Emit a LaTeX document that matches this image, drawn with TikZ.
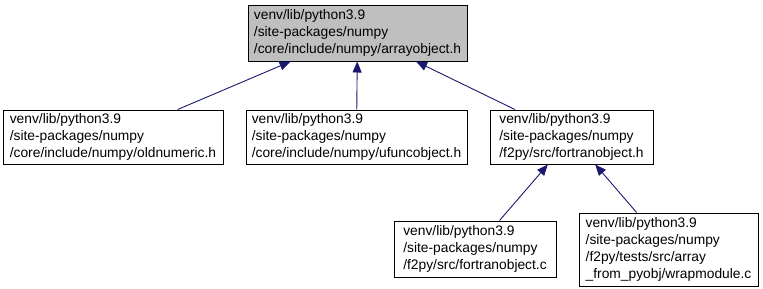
\documentclass[tikz,border=0pt]{standalone}
\usepackage{fontspec}
\setmainfont{Liberation Sans}
\usetikzlibrary{arrows.meta}
\definecolor{edgeblue}{HTML}{191970}
\definecolor{headgray}{HTML}{BFBFBF}
\begin{document}
\begin{tikzpicture}[x=1pt,y=-1pt,
    file/.style={draw=black,fill=white,line width=1pt,align=left,inner sep=0pt,
        font=\fontsize{13.8}{17}\selectfont},
    include/.style={draw=edgeblue,line width=0.9pt,{Triangle[length=11pt,width=9pt]}-}]
    \useasboundingbox (0,0) rectangle (763,289);
    % header that is included
    \node[file,fill=headgray,minimum width=219pt,minimum height=56pt] (arrayobj) at (357.5,33)
        {venv/lib/python3.9\\/site-packages/numpy\\/core/include/numpy/arrayobject.h};
    % files that include it
    \node[file,minimum width=220pt,minimum height=54pt] (oldnumeric) at (113,137)
        {venv/lib/python3.9\\/site-packages/numpy\\/core/include/numpy/oldnumeric.h};
    \node[file,minimum width=221pt,minimum height=54pt] (ufuncobj) at (356.5,137)
        {venv/lib/python3.9\\/site-packages/numpy\\/core/include/numpy/ufuncobject.h};
    \node[file,minimum width=163pt,minimum height=54pt] (fortranh) at (571.5,137)
        {venv/lib/python3.9\\/site-packages/numpy\\/f2py/src/fortranobject.h};
    \node[file,minimum width=162pt,minimum height=56pt] (fortranc) at (475,249)
        {venv/lib/python3.9\\/site-packages/numpy\\/f2py/src/fortranobject.c};
    \node[file,minimum width=179pt,minimum height=73pt] (wrapmodule) at (668.5,249.5)
        {venv/lib/python3.9\\/site-packages/numpy\\/f2py/tests/src/array\\\_from\_pyobj/wrapmodule.c};
    \draw[include] (arrayobj) -- (oldnumeric);
    \draw[include] (arrayobj) -- (ufuncobj);
    \draw[include] (arrayobj) -- (fortranh);
    \draw[include] (fortranh) -- (fortranc);
    \draw[include] (fortranh) -- (wrapmodule);
\end{tikzpicture}
\end{document}
